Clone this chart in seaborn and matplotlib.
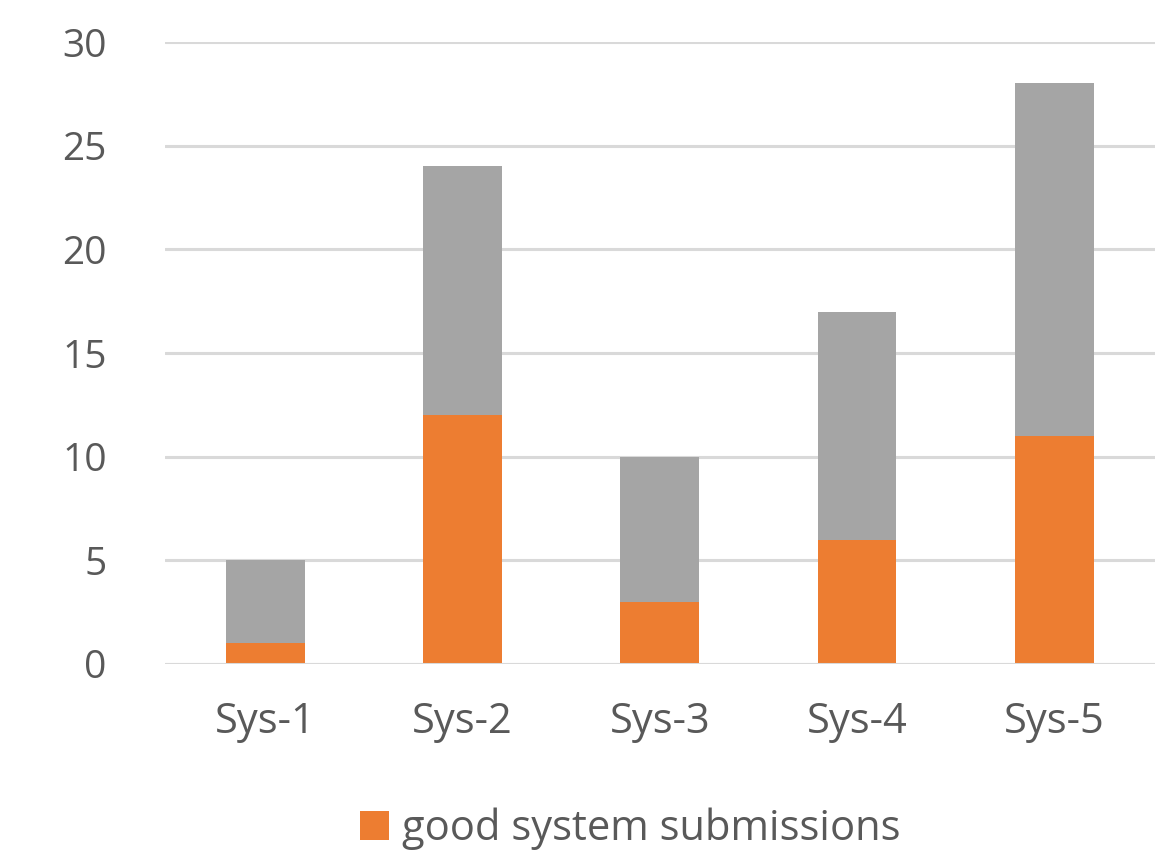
import matplotlib
matplotlib.use("Agg")
import matplotlib.pyplot as plt
import seaborn as sns
import pandas as pd

systems = ["Sys-1", "Sys-2", "Sys-3", "Sys-4", "Sys-5"]
total_submissions = [5, 24, 10, 17, 28]
good_submissions = [1, 12, 3, 6, 11]

df = pd.DataFrame({"system": systems, "total": total_submissions, "good": good_submissions})

sns.set_theme(style="white")
plt.rcParams["font.family"] = ["Open Sans", "DejaVu Sans"]

TEXT = "#595959"
fig = plt.figure(figsize=(11.71, 8.63), dpi=100)
ax = fig.add_axes([0.141, 0.2306, 0.845, 0.7207])

sns.barplot(data=df, x="system", y="total", color="#A5A5A5", width=0.4, ax=ax,
            saturation=1, label="_nolegend_", zorder=3, linewidth=0)
sns.barplot(data=df, x="system", y="good", color="#ED7D31", width=0.4, ax=ax,
            saturation=1, label="good system submissions", zorder=4, linewidth=0)

ax.set_ylim(0, 30)
ax.set_xlim(-0.51, 4.51)
ax.set_yticks([0, 5, 10, 15, 20, 25, 30])
ax.yaxis.grid(True, color="#D9D9D9", linewidth=2.2, zorder=0)
ax.xaxis.grid(False)
for s in ax.spines.values():
    s.set_visible(False)
ax.axhline(0, color="#D9D9D9", linewidth=2.2, zorder=5)
ax.set_xlabel("")
ax.set_ylabel("")
ax.tick_params(axis="both", length=0, labelcolor=TEXT)
ax.tick_params(axis="y", pad=42, labelsize=28)
ax.tick_params(axis="x", pad=27, labelsize=30)

handles, labels = ax.get_legend_handles_labels()
h = [hh for hh, ll in zip(handles, labels) if ll == "good system submissions"]
leg = fig.legend(h, ["good system submissions"], loc="center", bbox_to_anchor=(0.538, 0.04),
                 frameon=False, fontsize=30, handlelength=0.7, handleheight=0.7,
                 handletextpad=0.3, labelcolor=TEXT)
if ax.get_legend():
    ax.get_legend().remove()

fig.savefig("out.png", dpi=100)
